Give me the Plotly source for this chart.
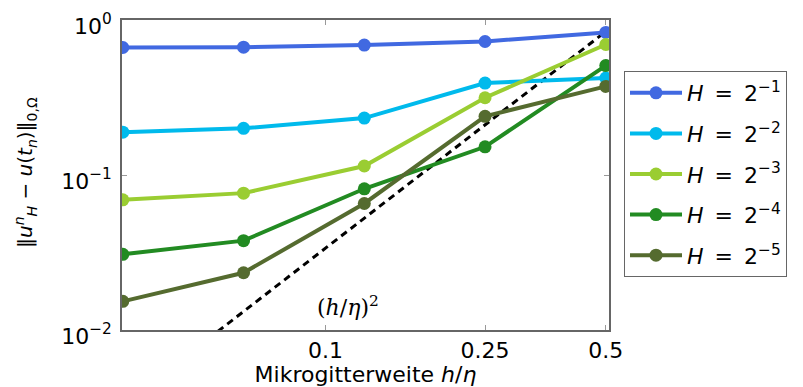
import plotly.graph_objects as go
import numpy as np

h_vals = [1/32, 1/16, 1/8, 1/4, 1/2]
exponents = ["−1", "−2", "−3", "−4", "−5"]
err_H1 = [0.665, 0.668, 0.689, 0.727, 0.832]
err_H2 = [0.189, 0.200, 0.233, 0.392, 0.422]
err_H3 = [0.0692, 0.0764, 0.1143, 0.315, 0.695]
err_H4 = [0.0308, 0.0377, 0.0815, 0.152, 0.508]
err_H5 = [0.0153, 0.0234, 0.0655, 0.239, 0.373]
colors = ["#4169E1", "#00BAEC", "#9ACD32", "#228B22", "#556B2F"]
ref_const = 3.37
x_ticks = [0.1, 0.25, 0.5]
x_ticktext = ["0.1", "0.25", "0.5"]
y_ticks = [0.01, 0.1, 1]
y_ticktext = ["10<sup>−2</sup>", "10<sup>−1</sup>", "10<sup>0</sup>"]

series = [err_H1, err_H2, err_H3, err_H4, err_H5]
FONT = "DejaVu Sans, Liberation Sans, Arial, sans-serif"

# page body has an 8px margin: shrink the figure so it fits the 803x387 window
W, H = 795, 379
L, T, PW, PH = 114, 12, 487, 310

fig = go.Figure()
fig.add_trace(go.Scatter(x=h_vals, y=[ref_const * h**2 for h in h_vals], mode="lines",
                         line=dict(color="black", width=3, dash="7px,5px"), showlegend=False))
for i, (ex, ys, c) in enumerate(zip(exponents, series, colors)):
    fig.add_trace(go.Scatter(x=h_vals, y=ys, mode="lines+markers", legendgroup=f"g{i}",
                             name="<i>H</i>\u2002=\u20022<sup>" + ex + "</sup>",
                             line=dict(color=c, width=4), marker=dict(color=c, size=13)))

fig.add_annotation(x=np.log10(0.114), y=np.log10(0.0143), xref="x", yref="y", showarrow=False,
                   text="(<i>h</i>/<i>η</i>)<sup>2</sup>", font=dict(size=22, family="DejaVu Serif", color="black"))

fig.add_annotation(x=(25 - 8 - L) / PW, y=(T + PH - (173 - 8)) / PH, xref="paper", yref="paper",
                   showarrow=False, textangle=-90, xanchor="center", yanchor="middle",
                   text="‖<i>u</i><sup><i>n</i></sup><sub><i>H</i></sub> − <i>u</i>(<i>t</i><sub><i>n</i></sub>)‖<sub>0,Ω</sub>",
                   font=dict(size=20, family=FONT, color="black"))

axis_common = dict(showline=True, mirror="allticks", linecolor="#666", linewidth=1.5,
                   ticks="inside", ticklen=5, tickcolor="#999", showgrid=False, zeroline=False,
                   tickfont=dict(size=22, color="black", family=FONT), automargin=False,
                   ticklabeloverflow="allow")
fig.update_xaxes(type="log", range=[np.log10(1/32) - 0.002, np.log10(0.5) + 0.008],
                 tickvals=x_ticks, ticktext=x_ticktext,
                 title=dict(text="Mikrogitterweite <i>h</i>/<i>η</i>", font=dict(size=22, color="black", family=FONT), standoff=0),
                 **axis_common)
fig.update_yaxes(type="log", range=[-2, 0.0001],
                 tickvals=y_ticks, ticktext=y_ticktext, ticklabelstandoff=4, ticklabelshift=6,
                 **axis_common)

fig.update_layout(width=W, height=H, margin=dict(l=L, r=W - L - PW, t=T, b=H - T - PH, autoexpand=False),
                  plot_bgcolor="white", paper_bgcolor="white",
                  font=dict(family=FONT, size=22, color="black"),
                  legend=dict(x=(624 - 8 - L) / PW, y=(T + PH - (71 - 8)) / PH, xanchor="left", yanchor="top",
                              bordercolor="#666", borderwidth=1,
                              font=dict(size=22), tracegroupgap=9, itemwidth=52))
fig.write_html("out.html")
